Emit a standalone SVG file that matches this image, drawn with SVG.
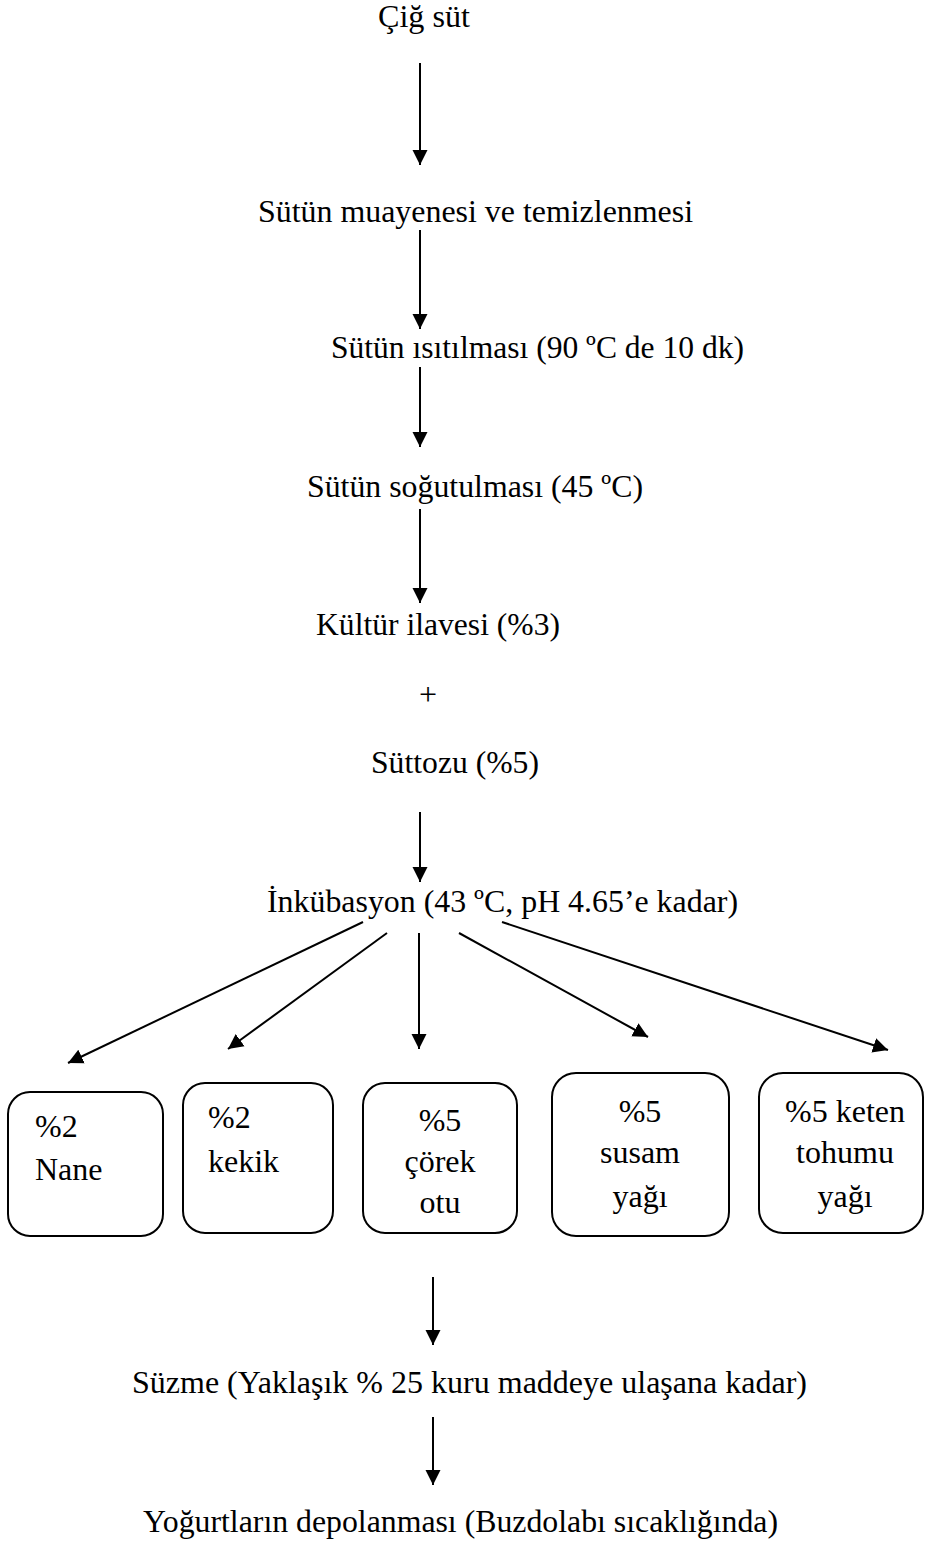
<svg xmlns="http://www.w3.org/2000/svg" width="925" height="1542" viewBox="0 0 925 1542">
<style>
text{font-size:32px;fill:#000}
.m{text-anchor:middle}
.box{fill:#fff;stroke:#000;stroke-width:2}
.c line{stroke:#000;stroke-width:2}
</style>
<defs>
<marker id="ah" markerUnits="userSpaceOnUse" markerWidth="16" markerHeight="16" refX="15" refY="8" orient="auto">
<path d="M0,0.5 L15,8 L0,15.5 z" fill="#000"/>
</marker>
</defs>
<rect width="925" height="1542" fill="#fff"/>
<g class="c" id="connectors">
<line x1="420" y1="63" x2="420" y2="165" marker-end="url(#ah)"/>
<line x1="420" y1="230" x2="420" y2="329" marker-end="url(#ah)"/>
<line x1="420" y1="367" x2="420" y2="447" marker-end="url(#ah)"/>
<line x1="420" y1="509" x2="420" y2="603" marker-end="url(#ah)"/>
<line x1="420" y1="812" x2="420" y2="882" marker-end="url(#ah)"/>
<line x1="363" y1="922" x2="68" y2="1063" marker-end="url(#ah)"/>
<line x1="387" y1="933" x2="228" y2="1049" marker-end="url(#ah)"/>
<line x1="419" y1="933" x2="419" y2="1049" marker-end="url(#ah)"/>
<line x1="459" y1="933" x2="648" y2="1037" marker-end="url(#ah)"/>
<line x1="502" y1="922" x2="888" y2="1050" marker-end="url(#ah)"/>
<line x1="433" y1="1277" x2="433" y2="1345" marker-end="url(#ah)"/>
<line x1="433" y1="1417" x2="433" y2="1485" marker-end="url(#ah)"/>
</g>
<g font-family="Liberation Serif, Times New Roman, DejaVu Serif, serif">
<g id="n1"><text x="378" y="27" textLength="92" lengthAdjust="spacingAndGlyphs">Çiğ süt</text></g>
<g id="n2"><text x="258" y="222" textLength="435" lengthAdjust="spacingAndGlyphs">Sütün muayenesi ve temizlenmesi</text></g>
<g id="n3"><text x="331" y="358" textLength="413" lengthAdjust="spacingAndGlyphs">Sütün ısıtılması (90 ºC de 10 dk)</text></g>
<g id="n4"><text x="307" y="497" textLength="336" lengthAdjust="spacingAndGlyphs">Sütün soğutulması (45 ºC)</text></g>
<g id="n5"><text x="316" y="635" textLength="244" lengthAdjust="spacingAndGlyphs">Kültür ilavesi (%3)</text></g>
<g id="n6"><text x="428" y="705" class="m">+</text></g>
<g id="n7"><text x="371" y="773" textLength="168" lengthAdjust="spacingAndGlyphs">Süttozu (%5)</text></g>
<g id="n8"><text x="267" y="912" textLength="471" lengthAdjust="spacingAndGlyphs">İnkübasyon (43 ºC, pH 4.65’e kadar)</text></g>
<g id="b1"><rect class="box" x="8" y="1092" width="155" height="144" rx="22"/>
<text x="35" y="1137">%2</text><text x="35" y="1180">Nane</text></g>
<g id="b2"><rect class="box" x="183" y="1083" width="150" height="150" rx="22"/>
<text x="208" y="1128">%2</text><text x="208" y="1172">kekik</text></g>
<g id="b3"><rect class="box" x="363" y="1083" width="154" height="150" rx="22"/>
<text x="440" y="1131" class="m">%5</text><text x="440" y="1172" class="m">çörek</text><text x="440" y="1213" class="m">otu</text></g>
<g id="b4"><rect class="box" x="552" y="1073" width="177" height="163" rx="24"/>
<text x="640" y="1122" class="m">%5</text><text x="640" y="1163" class="m">susam</text><text x="640" y="1207" class="m">yağı</text></g>
<g id="b5"><rect class="box" x="759" y="1073" width="164" height="160" rx="24"/>
<text x="845" y="1122" class="m">%5 keten</text><text x="845" y="1163" class="m">tohumu</text><text x="845" y="1207" class="m">yağı</text></g>
<g id="n9"><text x="132" y="1393" textLength="675" lengthAdjust="spacingAndGlyphs">Süzme (Yaklaşık % 25 kuru maddeye ulaşana kadar)</text></g>
<g id="n10"><text x="143" y="1532" textLength="635" lengthAdjust="spacingAndGlyphs">Yoğurtların depolanması (Buzdolabı sıcaklığında)</text></g>
</g>
</svg>
